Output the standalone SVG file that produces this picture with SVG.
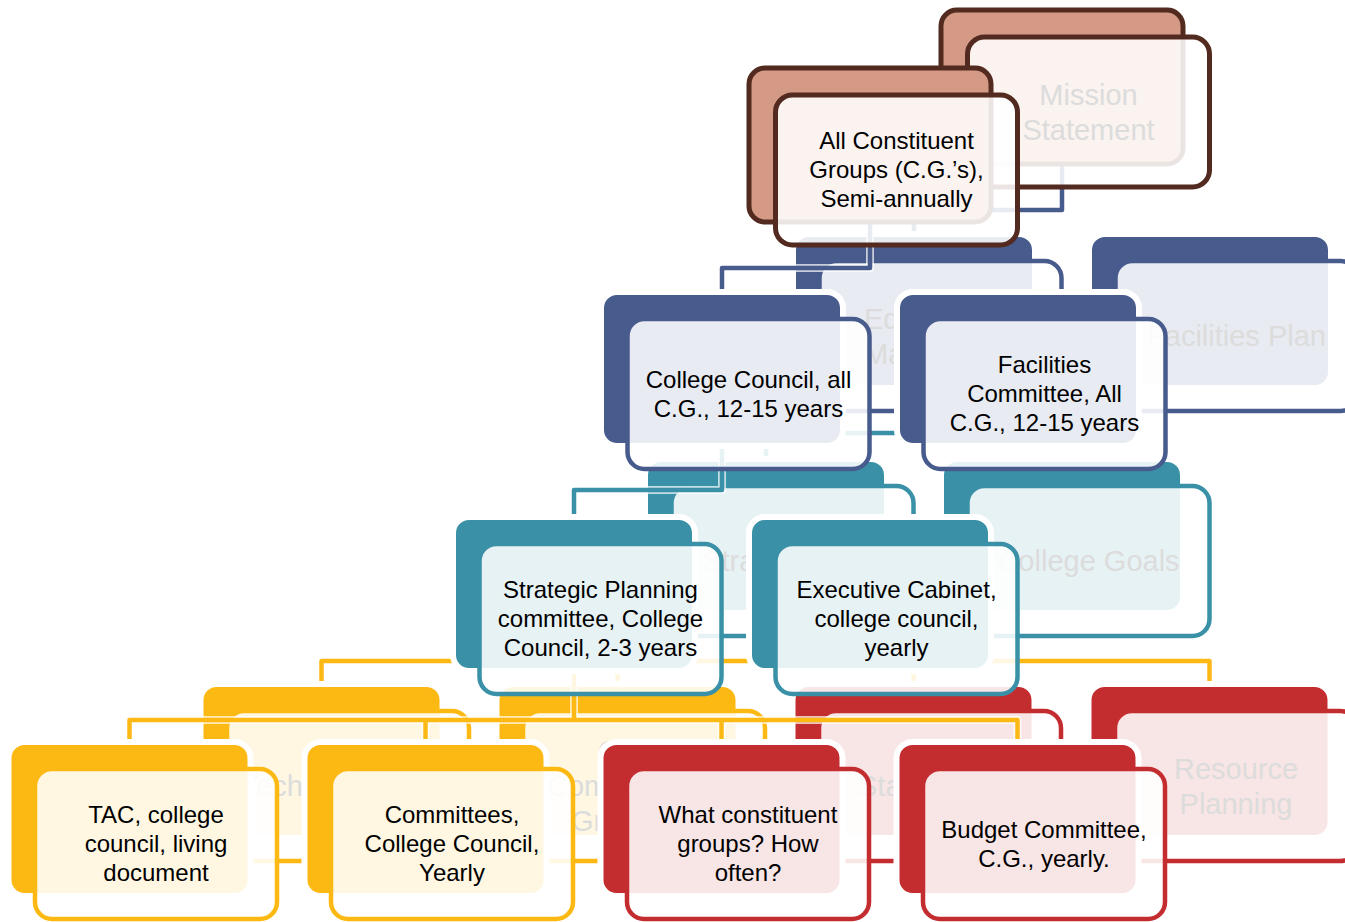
<svg xmlns="http://www.w3.org/2000/svg" width="1345" height="922" viewBox="0 0 1345 922">
<style>
.t{font-family:"Liberation Sans",Arial,sans-serif;font-size:24px;fill:#000;text-anchor:middle}
.bt{font-family:"Liberation Sans",Arial,sans-serif;font-size:29px;fill:#dcdcdc;text-anchor:middle}
.bs{font-family:"Liberation Sans",Arial,sans-serif;font-size:29px;fill:#dcdcdc;text-anchor:start}
.c0{fill:#d59a86;stroke:#532a1f;stroke-width:5}
.f0{fill:#fff;fill-opacity:.88;stroke:#532a1f;stroke-width:5}
.c1{fill:#475b8c;stroke:#fff;stroke-width:6}
.f1{fill:#fff;fill-opacity:.88;stroke:#475b8c;stroke-width:4.5}
.c2{fill:#3a91a7;stroke:#fff;stroke-width:6}
.f2{fill:#fff;fill-opacity:.88;stroke:#3a91a7;stroke-width:4.5}
.c3{fill:#fdb913;stroke:#fff;stroke-width:6}
.f3{fill:#fff;fill-opacity:.88;stroke:#fdb913;stroke-width:4.5}
.c4{fill:#c42d2f;stroke:#fff;stroke-width:6}
.f4{fill:#fff;fill-opacity:.88;stroke:#c42d2f;stroke-width:4.5}
.cas{fill:none;stroke:#fff;stroke-opacity:.7;stroke-width:8;stroke-linejoin:round}
.lb{fill:none;stroke:#475b8c;stroke-width:4.5;stroke-linejoin:round}
.lt{fill:none;stroke:#3a91a7;stroke-width:4.5;stroke-linejoin:round}
.ly{fill:none;stroke:#fdb913;stroke-width:4.5;stroke-linejoin:round}
</style>
<defs>
<rect id="cr" x="0" y="0" width="242" height="154" rx="16"/>
<rect id="fr" x="26.5" y="27" width="242" height="150" rx="17"/>
</defs>

<!-- back layer connectors -->
<g id="back-connectors">
<path class="cas" d="M1062,166 V210 H914 V234"/>
<path class="lb" d="M1062,166 V210 H914 V234"/>
<path class="cas" d="M914,388 V433 H766 V459"/>
<path class="lt" d="M914,388 V433 H766 V459"/>
<path class="cas" d="M766,613 V661 M321.5,684 V661 H1209.5 V684 M617.5,661 V684 M913.5,661 V684"/>
<path class="ly" d="M766,613 V661 M321.5,684 V661 H1209.5 V684 M617.5,661 V684 M913.5,661 V684"/>
</g>

<!-- back layer nodes -->
<g id="mission" transform="translate(941,10)">
<use href="#cr" class="c0"/><use href="#fr" class="f0"/>
<text class="bt" x="147.5" y="94.5">Mission</text><text class="bt" x="147.5" y="129.5">Statement</text>
</g>
<g id="edmp" transform="translate(793,234)">
<use href="#cr" class="c1"/><use href="#fr" class="f1"/>
<text class="bs" x="71" y="94.5">Ed</text><text class="bs" x="71" y="129.5">Ma</text>
</g>
<g id="facplan" transform="translate(1089,234)">
<use href="#cr" class="c1"/><use href="#fr" class="f1"/>
<text class="bt" x="147.5" y="112">Facilities Plan</text>
</g>
<g id="stratplan" transform="translate(645,459)">
<use href="#cr" class="c2"/><use href="#fr" class="f2"/>
<text class="bt" x="147.5" y="112">Strategic Plan</text>
</g>
<g id="collgoals" transform="translate(941,459)">
<use href="#cr" class="c2"/><use href="#fr" class="f2"/>
<text class="bt" x="147.5" y="112">College Goals</text>
</g>
<g id="techplan" transform="translate(200.5,684)">
<use href="#cr" class="c3"/><use href="#fr" class="f3"/>
<text class="bt" x="147.5" y="112">Technology Plan</text>
</g>
<g id="commgroups" transform="translate(496.5,684)">
<use href="#cr" class="c3"/><use href="#fr" class="f3"/>
<text class="bs" x="101.5" y="77">C</text><text class="bs" x="50.5" y="112">Com</text><text class="bs" x="74.5" y="147">Gr</text>
</g>
<g id="staffplan" transform="translate(792.5,684)">
<use href="#cr" class="c4"/><use href="#fr" class="f4"/>
<text class="bt" x="147.5" y="112">Staffing Plan</text>
</g>
<g id="resplan" transform="translate(1088.5,684)">
<use href="#cr" class="c4"/><use href="#fr" class="f4"/>
<text class="bt" x="147.5" y="94.5">Resource</text><text class="bt" x="147.5" y="129.5">Planning</text>
</g>

<!-- front layer connectors -->
<g id="front-connectors">
<path class="cas" d="M870,224 V268 H722 V292"/>
<path class="lb" d="M870,224 V268 H722 V292"/>
<path class="cas" d="M722,446 V490 H574 V517"/>
<path class="lt" d="M722,446 V490 H574 V517"/>
<path class="cas" d="M574,671 V720 M129.5,742 V720 H1017.5 V742 M425.5,720 V742 M721.5,720 V742"/>
<path class="ly" d="M574,671 V720 M129.5,742 V720 H1017.5 V742 M425.5,720 V742 M721.5,720 V742"/>
</g>

<!-- front layer nodes -->
<g id="allcg" transform="translate(749,68)">
<use href="#cr" class="c0"/><use href="#fr" class="f0"/>
<text class="t" x="147.5" y="81">All Constituent</text><text class="t" x="147.5" y="110">Groups (C.G.’s),</text><text class="t" x="147.5" y="139">Semi-annually</text>
</g>
<g id="collcouncil" transform="translate(601,292)">
<use href="#cr" class="c1"/><use href="#fr" class="f1"/>
<text class="t" x="147.5" y="95.5">College Council, all</text><text class="t" x="147.5" y="124.5">C.G., 12-15 years</text>
</g>
<g id="faccomm" transform="translate(897,292)">
<use href="#cr" class="c1"/><use href="#fr" class="f1"/>
<text class="t" x="147.5" y="81">Facilities</text><text class="t" x="147.5" y="110">Committee, All</text><text class="t" x="147.5" y="139">C.G., 12-15 years</text>
</g>
<g id="spcomm" transform="translate(453,517)">
<use href="#cr" class="c2"/><use href="#fr" class="f2"/>
<text class="t" x="147.5" y="81">Strategic Planning</text><text class="t" x="147.5" y="110">committee, College</text><text class="t" x="147.5" y="139">Council, 2-3 years</text>
</g>
<g id="execcab" transform="translate(749,517)">
<use href="#cr" class="c2"/><use href="#fr" class="f2"/>
<text class="t" x="147.5" y="81">Executive Cabinet,</text><text class="t" x="147.5" y="110">college council,</text><text class="t" x="147.5" y="139">yearly</text>
</g>
<g id="tac" transform="translate(8.5,742)">
<use href="#cr" class="c3"/><use href="#fr" class="f3"/>
<text class="t" x="147.5" y="81">TAC, college</text><text class="t" x="147.5" y="110">council, living</text><text class="t" x="147.5" y="139">document</text>
</g>
<g id="committees" transform="translate(304.5,742)">
<use href="#cr" class="c3"/><use href="#fr" class="f3"/>
<text class="t" x="147.5" y="81">Committees,</text><text class="t" x="147.5" y="110">College Council,</text><text class="t" x="147.5" y="139">Yearly</text>
</g>
<g id="whatcg" transform="translate(600.5,742)">
<use href="#cr" class="c4"/><use href="#fr" class="f4"/>
<text class="t" x="147.5" y="81">What constituent</text><text class="t" x="147.5" y="110">groups? How</text><text class="t" x="147.5" y="139">often?</text>
</g>
<g id="budget" transform="translate(896.5,742)">
<use href="#cr" class="c4"/><use href="#fr" class="f4"/>
<text class="t" x="147.5" y="95.5">Budget Committee,</text><text class="t" x="147.5" y="124.5">C.G., yearly.</text>
</g>
</svg>
